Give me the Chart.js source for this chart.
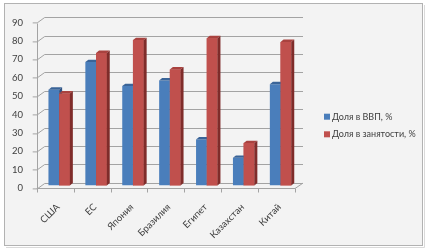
<!DOCTYPE html>
<html>
<head>
<meta charset="utf-8">
<script src="https://cdn.jsdelivr.net/npm/chart.js@4/dist/chart.umd.min.js"></script>
<style>
html,body{margin:0;padding:0;background:#ffffff;}
#wrap{position:relative;width:428px;height:250px;}
canvas{display:block;}
</style>
</head>
<body>
<div id="wrap"><canvas id="c" width="428" height="250"></canvas></div>
<script>
const categories = ["США", "ЕС", "Япония", "Бразилия", "Египет", "Казахстан", "Китай"];
const gdpShare = [52, 67, 54, 57, 25, 15, 55];
const employmentShare = [50, 72, 79, 63, 80, 23, 78];
const seriesNames = ["Доля в ВВП, %", "Доля в занятости, %"];
const yTicks = [0, 10, 20, 30, 40, 50, 60, 70, 80, 90];

const FONT = "Lato, 'Liberation Sans', sans-serif";
const TEXT = "#404040";
const GRID = "#a3a3a3";
const FLOOR_DX = 4, FLOOR_DY = 2.7;   // half depth of the 3D floor
const BAR_DX = 3, BAR_DY = 2.4;       // depth of a bar

const faceColors = [
  {front: "#4a7ebb", top: "#3a6498", side: "#2f5282"},
  {front: "#c0504d", top: "#a9423f", side: "#7f2c2a"}
];

const frame = {
  id: "frame",
  beforeDraw(chart) {
    const ctx = chart.ctx;
    ctx.save();
    ctx.fillStyle = "#ffffff";
    ctx.fillRect(0, 0, chart.width, chart.height);
    ctx.strokeStyle = "#dadada";
    ctx.lineWidth = 1;
    ctx.beginPath();
    ctx.moveTo(424.5, 5); ctx.lineTo(424.5, 247.5); ctx.lineTo(6, 247.5);
    ctx.stroke();
    ctx.fillStyle = "#f3f3f3";
    ctx.fillRect(4.5, 3.5, 418, 242);
    ctx.strokeStyle = "#b2b2b2";
    ctx.strokeRect(4.5, 3.5, 418, 242);
    ctx.restore();
  }
};

const walls = {
  id: "walls",
  beforeDatasetsDraw(chart) {
    const {ctx, chartArea: a, scales: {x, y}} = chart;
    ctx.save();
    ctx.strokeStyle = GRID;
    ctx.lineWidth = 1;
    const fl = a.left - FLOOR_DX, fr = a.right - FLOOR_DX;
    const bl = a.left + FLOOR_DX, br = a.right + FLOOR_DX;
    ctx.beginPath();
    yTicks.forEach(v => {
      const py = Math.round(y.getPixelForValue(v) - FLOOR_DY) + 0.5;
      ctx.moveTo(bl, py); ctx.lineTo(br, py);
      ctx.moveTo(fl + 0.5, py + 2 * FLOOR_DY); ctx.lineTo(bl, py);
      ctx.moveTo(fl - 4, py + 2 * FLOOR_DY); ctx.lineTo(fl + 0.5, py + 2 * FLOOR_DY);
    });
    const fTop = Math.round(y.getPixelForValue(90) + FLOOR_DY) + 0.5;
    const fBot = Math.round(y.getPixelForValue(0) + FLOOR_DY) + 0.5;
    ctx.moveTo(Math.round(fl) + 0.5, fTop); ctx.lineTo(Math.round(fl) + 0.5, fBot);
    ctx.moveTo(fl, fBot); ctx.lineTo(fr, fBot);
    ctx.lineTo(br, fBot - 2 * FLOOR_DY);
    const n = categories.length;
    const cw = (a.right - a.left) / n;
    for (let i = 0; i <= n; i++) {
      const px = Math.round(fl + i * cw) + 0.5;
      ctx.moveTo(px, fBot); ctx.lineTo(px, fBot + 4);
    }
    ctx.stroke();
    ctx.restore();
  }
};

function drawFaces(ctx, bar, col) {
  const p = bar.getProps(["x", "y", "base", "width"], true);
  const l = p.x - p.width / 2, r = p.x + p.width / 2;
  ctx.fillStyle = col.top;
  ctx.beginPath();
  ctx.moveTo(l, p.y); ctx.lineTo(r, p.y);
  ctx.lineTo(r + BAR_DX, p.y - BAR_DY); ctx.lineTo(l + BAR_DX, p.y - BAR_DY);
  ctx.closePath(); ctx.fill();
  ctx.fillStyle = col.side;
  ctx.beginPath();
  ctx.moveTo(r, p.y); ctx.lineTo(r + BAR_DX, p.y - BAR_DY);
  ctx.lineTo(r + BAR_DX, p.base - BAR_DY); ctx.lineTo(r, p.base);
  ctx.closePath(); ctx.fill();
}

const bars3d = {
  id: "bars3d",
  afterDatasetsDraw(chart) {
    const ctx = chart.ctx;
    const m0 = chart.getDatasetMeta(0), m1 = chart.getDatasetMeta(1);
    ctx.save();
    m0.data.forEach((bar, i) => {
      drawFaces(ctx, bar, faceColors[0]);
      const red = m1.data[i];
      red.draw(ctx, chart.chartArea);
      drawFaces(ctx, red, faceColors[1]);
    });
    ctx.restore();
  }
};

const legendBox = {
  id: "legendBox",
  afterDraw(chart) {
    const ctx = chart.ctx;
    ctx.save();
    ctx.font = "9px " + FONT;
    ctx.textBaseline = "middle";
    ctx.textAlign = "left";
    const ys = [116.7, 134.3];
    chart.data.datasets.forEach((ds, i) => {
      ctx.fillStyle = faceColors[i].front;
      ctx.fillRect(324, ys[i] - 3, 6, 6);
      ctx.fillStyle = TEXT;
      ctx.fillText(ds.label, 332, ys[i]);
    });
    ctx.restore();
  }
};

new Chart(document.getElementById("c"), {
  type: "bar",
  data: {
    labels: categories,
    datasets: [
      {label: seriesNames[0], data: gdpShare, backgroundColor: faceColors[0].front},
      {label: seriesNames[1], data: employmentShare, backgroundColor: faceColors[1].front}
    ]
  },
  options: {
    responsive: false,
    animation: false,
    events: [],
    layout: {padding: {left: 0, top: 19.8, right: 129, bottom: 0}},
    plugins: {legend: {display: false}, tooltip: {enabled: false}},
    datasets: {bar: {categoryPercentage: 0.58, barPercentage: 1}},
    scales: {
      x: {
        grid: {display: false},
        border: {display: false},
        ticks: {
          color: TEXT, font: {family: FONT, size: 9.5},
          maxRotation: 45, minRotation: 45, padding: 8, labelOffset: -1, autoSkip: false
        },
        afterFit(s) { s.height = 250 - 185.4; }
      },
      y: {
        min: 0, max: 90,
        grid: {display: false},
        border: {display: false},
        ticks: {
          color: TEXT, font: {family: FONT, size: 9.5},
          stepSize: 10, padding: 9.7, labelOffset: 2.7
        },
        afterFit(s) { s.width = 40.7; }
      }
    }
  },
  plugins: [frame, walls, bars3d, legendBox]
});
</script>
</body>
</html>
